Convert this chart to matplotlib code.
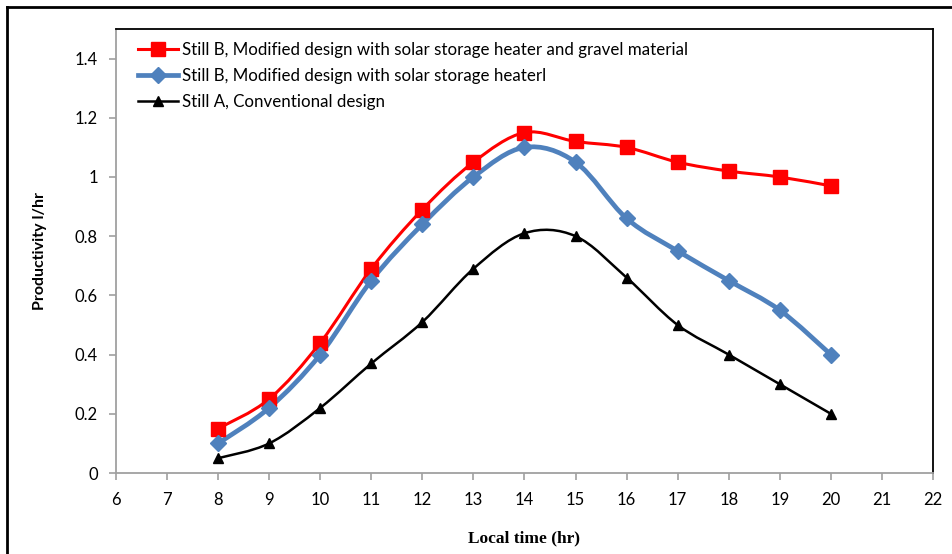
import numpy as np
import matplotlib

matplotlib.use("Agg")
import matplotlib.pyplot as plt
from matplotlib.path import Path
from matplotlib.patches import PathPatch
from matplotlib.lines import Line2D

hours = [8, 9, 10, 11, 12, 13, 14, 15, 16, 17, 18, 19, 20]
still_b_gravel = [0.15, 0.25, 0.44, 0.69, 0.89, 1.05, 1.15, 1.12, 1.10, 1.05, 1.02, 1.00, 0.97]
still_b_heater = [0.10, 0.22, 0.40, 0.65, 0.84, 1.00, 1.10, 1.05, 0.86, 0.75, 0.65, 0.55, 0.40]
still_a_conv = [0.05, 0.10, 0.22, 0.37, 0.51, 0.69, 0.81, 0.80, 0.66, 0.50, 0.40, 0.30, 0.20]

labels = [
    "Still B, Modified design with solar storage heater and gravel material",
    "Still B, Modified design with solar storage heaterl",
    "Still A, Conventional design",
]
x_ticks = list(range(6, 23))
y_ticks = [0, 0.2, 0.4, 0.6, 0.8, 1, 1.2, 1.4]
y_tick_labels = ["0", "0.2", "0.4", "0.6", "0.8", "1", "1.2", "1.4"]


def smooth_path(x, y):
    # Excel-style smoothed line: cubic Bezier segments (Catmull-Rom tangents)
    pts = np.column_stack([x, y]).astype(float)
    verts = [pts[0]]
    codes = [Path.MOVETO]
    n = len(pts)
    for i in range(n - 1):
        p0 = pts[i - 1] if i > 0 else pts[i]
        p1, p2 = pts[i], pts[i + 1]
        p3 = pts[i + 2] if i + 2 < n else pts[i + 1]
        c1 = p1 + (p2 - p0) / 6.0
        c2 = p2 - (p3 - p1) / 6.0
        verts += [c1, c2, p2]
        codes += [Path.CURVE4] * 3
    return Path(verts, codes)


series = [
    (still_b_gravel, "#FF0000", 2.2, "s", 9.5),
    (still_b_heater, "#4F81BD", 3.4, "D", 8.5),
    (still_a_conv, "#000000", 1.8, "^", 7),
]

fig = plt.figure(figsize=(9.53, 5.54), dpi=100)
ax = fig.add_axes([0.1217, 0.1462, 0.8573, 0.8015])

handles = []
for vals, color, lw, mk, ms in series:
    patch = PathPatch(smooth_path(hours, vals), facecolor="none", edgecolor=color,
                      linewidth=lw, zorder=2)
    ax.add_patch(patch)
    ax.plot(hours, vals, linestyle="none", marker=mk, markersize=ms, color=color,
            markeredgecolor=color, zorder=3)
    handles.append(Line2D([], [], color=color, linewidth=lw, marker=mk, markersize=ms))

ax.set_xlim(6, 22)
ax.set_ylim(0, 1.5)
ax.set_xticks(x_ticks)
ax.set_yticks(y_ticks)
ax.set_yticklabels(y_tick_labels)

for side in ["left", "bottom"]:
    ax.spines[side].set_color("#A0A0A0")
    ax.spines[side].set_linewidth(1.3)
for side in ["top", "right"]:
    ax.spines[side].set_color("black")
    ax.spines[side].set_linewidth(1.3)

ax.tick_params(axis="both", direction="out", length=5, width=1.2, color="#A0A0A0",
               labelsize=12)
ax.tick_params(axis="x", pad=9)
ax.tick_params(axis="y", pad=8)
for lab in ax.get_xticklabels() + ax.get_yticklabels():
    lab.set_family("Lato")

ax.set_xlabel("Local time (hr)", family="Liberation Serif", fontweight="bold",
              fontsize=12.5, labelpad=16)
ax.set_ylabel("Productivity l/hr", family="Lato", fontweight="bold", fontsize=11.5,
              labelpad=20)

leg = ax.legend(handles, labels, loc="upper left", bbox_to_anchor=(0.027, 0.971),
                frameon=False, prop={"family": "Lato", "size": 12.2},
                handlelength=2.35, handletextpad=0.25, labelspacing=0.6,
                borderaxespad=0.0, borderpad=0.0)

# outer chart border (left and top)
fig.add_artist(Line2D([7 / 953, 7 / 953], [0, 1 - 7 / 554], color="black",
                      linewidth=2, transform=fig.transFigure))
fig.add_artist(Line2D([7 / 953, 1], [1 - 7 / 554, 1 - 7 / 554], color="black",
                      linewidth=2, transform=fig.transFigure))

fig.savefig("out.png", dpi=100)
plt.close(fig)
